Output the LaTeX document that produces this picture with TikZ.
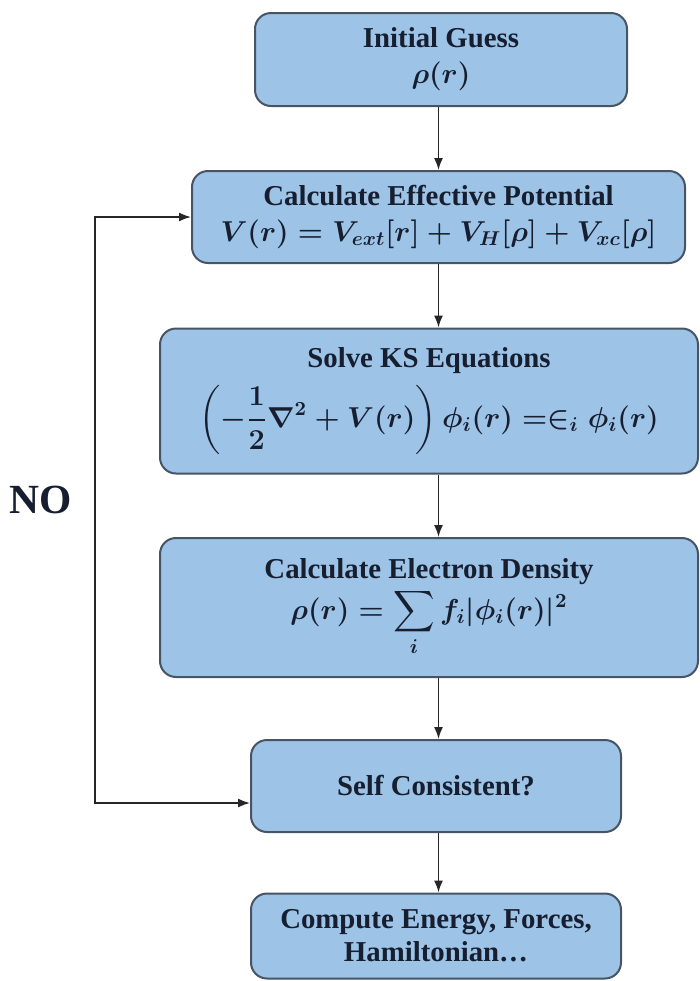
\documentclass[tikz,border=0pt]{standalone}
\usepackage{amsmath,amssymb}
\usepackage{bm}
\usepackage{fontspec}
\setmainfont{Liberation Serif}
\usetikzlibrary{arrows.meta,positioning}
\definecolor{boxblue}{RGB}{157,195,230}
\definecolor{boxedge}{RGB}{70,84,102}
\definecolor{inkblue}{RGB}{22,30,48}

\begin{document}
\begin{tikzpicture}[x=0.5pt,y=-0.5pt,
    stepbox/.style={draw=boxedge, fill=boxblue, line width=1pt, rounded corners=8pt,
        align=center, text=inkblue, font=\Large\bfseries\boldmath, inner sep=0pt},
    flow/.style={-{Latex[length=6pt,width=4.5pt]}, line width=0.8pt, draw=black!85}]
    \useasboundingbox (0,0) rectangle (700,981);
    %Boxes
    \node[stepbox, minimum width=186pt, minimum height=46.5pt] (guess) at (441,59.5)
        {Initial Guess\\$\rho(r)$};
    \node[stepbox, minimum width=246.5pt, minimum height=46pt] (pot) at (438.5,217)
        {Calculate Effective Potential\\$V(r) = V_{ext}[r] + V_{H}[\rho] + V_{xc}[\rho]$};
    \node[stepbox, minimum width=269pt, minimum height=72.5pt] (ks) at (429,401)
        {Solve KS Equations\\[5pt]$\displaystyle\left(-\frac{1}{2}\nabla^{2} + V(r)\right)\phi_{i}(r) =\in_{i} \phi_{i}(r)$};
    \node[stepbox, minimum width=269pt, minimum height=69.5pt] (dens) at (429,607.5)
        {Calculate Electron Density\\[1pt]$\displaystyle\rho(r) = \sum_{i} f_{i}|\phi_{i}(r)|^{2}$};
    \node[stepbox, minimum width=185pt, minimum height=46pt] (scf) at (436,786)
        {Self Consistent?};
    \node[stepbox, minimum width=185pt, minimum height=42.5pt, font=\Large\bfseries\linespread{0.92}\selectfont]
        (energy) at (436,936) {Compute Energy, Forces,\\Hamiltonian\dots};
    %Label
    \node[font=\huge\bfseries, text=inkblue] (no) at (41,500) {NO};
    %Arrows
    \draw[flow] (guess.south -| pot.south) -- (pot.north);
    \draw[flow] (pot.south) -- (pot.south |- ks.north);
    \draw[flow] (ks.south -| pot.south) -- (pot.south |- dens.north);
    \draw[flow] (dens.south -| pot.south) -- (pot.south |- scf.north);
    \draw[flow] (scf.south -| pot.south) -- (pot.south |- energy.north);
    %Loop back
    \coordinate (looptop) at (95,217);
    \coordinate (loopbot) at (95,803);
    \draw[flow, {Latex[length=6pt,width=4.5pt]}-{Latex[length=6pt,width=4.5pt]}]
        (scf.west |- loopbot) -- (loopbot) -- (looptop) -- (pot.west);
\end{tikzpicture}
\end{document}
